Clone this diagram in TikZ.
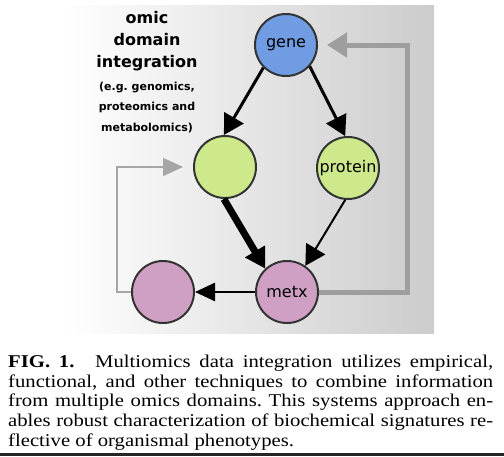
\documentclass[tikz,border=0pt]{standalone}
\usepackage{fontspec}
\setmainfont{Liberation Serif}
\newfontfamily\dejavu{DejaVu Sans}
\usetikzlibrary{arrows.meta}

\definecolor{genecol}{RGB}{111,156,226}
\definecolor{leafcol}{RGB}{205,233,140}
\definecolor{metcol}{RGB}{207,160,196}
\definecolor{fbgray}{RGB}{158,158,158}

\newcommand{\capline}[1]{\scalebox{1.15}[1]{\makebox[421.7pt][s]{#1}}}

\begin{document}
\frenchspacing
\begin{tikzpicture}[
        x=1pt, y=-1pt,
        omic/.style={circle, draw=black!80, line width=2pt, minimum size=62pt, inner sep=0pt, font=\dejavu\fontsize{16}{16}\selectfont},
        arrow/.style={-{Triangle[length=20pt, width=22pt]}, black},
        feedback/.style={-{Triangle[length=20pt, width=24pt]}, fbgray, line width=5pt, shorten >=9pt},
        loopback/.style={-{Triangle[length=20pt, width=18pt]}, gray!70, line width=1.5pt, shorten >=10pt},
        heading/.style={anchor=base, font=\dejavu\bfseries\fontsize{16}{16}\selectfont},
        subheading/.style={anchor=base, font=\dejavu\bfseries\fontsize{11}{11}\selectfont},
        caption/.style={anchor=base west, inner sep=0pt, font=\fontsize{18}{18}\selectfont}
    ]
    \useasboundingbox (0,0) rectangle (504,456);

    % Background
    \shade[left color=white, middle color=gray!14, right color=gray!40] (65,5) rectangle (434,333);
    \fill[black!85] (0,453) rectangle (504,456);

    % Heading
    \node[heading] (h1) at (147,23) {omic};
    \node[heading] (h2) at (147,45) {domain};
    \node[heading] (h3) at (147,67) {integration};
    \node[subheading] (s1) at (147,90) {(e.g. genomics,};
    \node[subheading] (s2) at (147,110.5) {proteomics and};
    \node[subheading] (s3) at (147,131) {metabolomics)};

    % Nodes
    \node[omic, fill=genecol] (gene) at (286,45) {gene};
    \node[omic, fill=leafcol] (left) at (225,167) {};
    \node[omic, fill=leafcol] (protein) at (348,168) {protein};
    \node[omic, fill=metcol] (metx) at (287,292) {metx};
    \node[omic, fill=metcol] (pheno) at (163,292) {};

    \coordinate (fbright) at (407,45);
    \coordinate (fbleft) at (117,167);

    % Feedback paths
    \draw[feedback] (metx.east) -| (fbright) -- (gene.east);
    \draw[loopback] (pheno.west) -| (fbleft) -- (left.west);

    % Arrows
    \draw[arrow, line width=3pt] (gene.225) -- (left.92);
    \draw[arrow, line width=3pt] (gene.318) -- (protein.95);
    \draw[arrow, line width=7pt] (left.268) -- (metx.133);
    \draw[arrow, line width=2pt] (protein.265) -- (metx.55);
    \draw[arrow, line width=2.5pt, -{Triangle[length=20pt, width=18pt]}] (metx.west) -- (pheno.east);

    % Caption
    \foreach \txt [count=\i] in {
        {\textbf{FIG. 1.}\quad Multiomics data integration utilizes empirical,},
        {functional, and other techniques to combine information},
        {from multiple omics domains. This systems approach en-},
        {ables robust characterization of biochemical signatures re-}}
        \node[caption] (cap\i) at (8,347.5+19.75*\i) {\capline{\txt}};
    \node[caption] (cap5) at (8,446.25) {\scalebox{1.15}[1]{flective of organismal phenotypes.}};

\end{tikzpicture}
\end{document}
